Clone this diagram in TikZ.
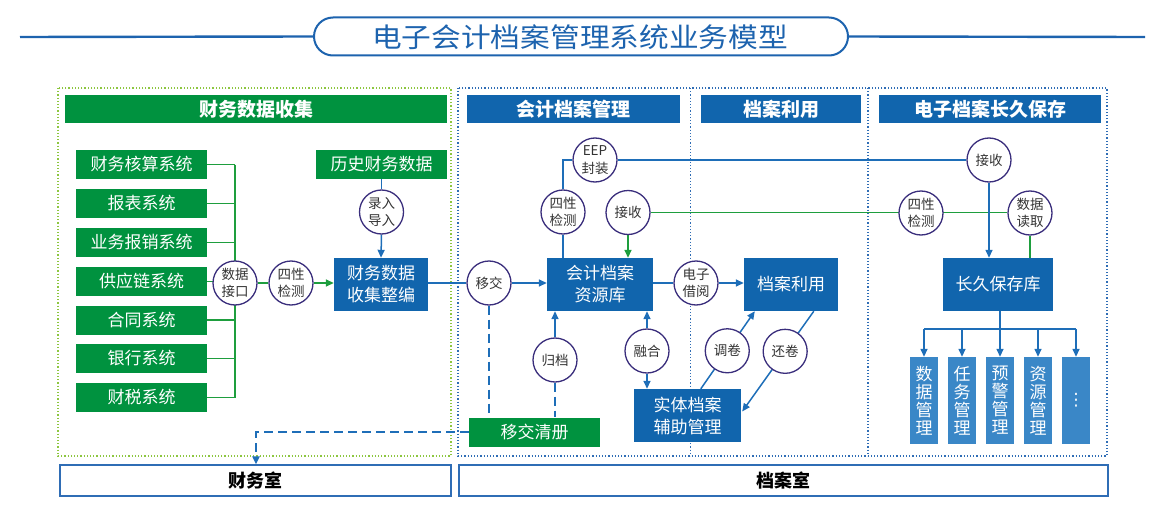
\documentclass[tikz,border=0pt]{standalone}
\usepackage{fontspec}
\newfontfamily\cjk{Noto Sans CJK SC}
\newfontfamily\dejavu{DejaVu Sans}
\usetikzlibrary{arrows.meta,calc,backgrounds}
\definecolor{cgreen}{HTML}{00923F}
\definecolor{cblue}{HTML}{1165AD}
\definecolor{clight}{HTML}{3A87C7}
\definecolor{cline}{HTML}{1E6EB8}
\definecolor{cgline}{HTML}{1E9E3E}
\definecolor{ccirc}{HTML}{3A2E7C}
\definecolor{ctext}{HTML}{333333}
\definecolor{cdotg}{HTML}{8DC63F}
\definecolor{cdotb}{HTML}{2F6DB5}
\definecolor{ctitle}{HTML}{1D63AE}
\begin{document}
\begin{tikzpicture}[x=1pt,y=-1pt,
  gbox/.style={fill=cgreen, text=white, inner sep=0pt, font=\cjk\fontsize{17}{20}\selectfont, align=center},
  bbox/.style={fill=cblue, text=white, inner sep=0pt, font=\cjk\fontsize{17}{22}\selectfont, align=center},
  sbox/.style={fill=clight, text=white, inner sep=0pt, minimum width=28.5pt, minimum height=87pt, font=\cjk\fontsize{17}{18}\selectfont, align=center},
  hdrg/.style={fill=cgreen, text=white, inner sep=0pt, minimum height=28pt, font=\cjk\bfseries\fontsize{19}{22}\selectfont},
  hdrb/.style={fill=cblue, text=white, inner sep=0pt, minimum height=28pt, font=\cjk\bfseries\fontsize{19}{22}\selectfont},
  circ/.style={circle, draw=ccirc, line width=1.3pt, fill=white, minimum size=44pt, inner sep=0pt, text=ctext, font=\cjk\fontsize{13.5}{17.5}\selectfont, align=center},
  roombox/.style={draw=cdotb, line width=1.1pt, fill=white, inner sep=0pt, minimum height=31pt, font=\cjk\bfseries\fontsize{18}{20}\selectfont, text=black},
  lb/.style={draw=cline, line width=1.5pt},
  lg/.style={draw=cgline, line width=1.5pt},
  arr/.style={-{Triangle[length=8pt,width=7pt]}},
  dashb/.style={draw=cline, line width=2pt, dash pattern=on 9pt off 5pt},
]
\useasboundingbox (0,0) rectangle (1166,508);

% title
\node[draw=ctitle, line width=2pt, rounded corners=19pt, minimum width=534pt, minimum height=38pt, inner sep=0pt] (tbox) at (581,36.5) {};
\node[text=ctitle, font=\cjk\fontsize{27}{30}\selectfont, inner sep=0pt] (ttext) at (580,37) {\scalebox{1.1}[1]{电子会计档案管理系统业务模型}};
\coordinate (tl) at (20,37);
\coordinate (tr) at (1145,37);

% headers
\node[hdrg, minimum width=382pt] (h1) at (256,109) {财务数据收集};
\node[hdrb, minimum width=213pt] (h2) at (573.5,109) {会计档案管理};
\node[hdrb, minimum width=160pt] (h3) at (781,109) {档案利用};
\node[hdrb, minimum width=222pt] (h4) at (990,109) {电子档案长久保存};

% left green systems
\foreach \i/\t/\y in {1/财务核算系统/164.5, 2/报表系统/203.5, 3/业务报销系统/242.5, 4/供应链系统/281.5, 5/合同系统/320, 6/银行系统/358.5, 7/财税系统/397.5}{
  \node[gbox, minimum width=131pt, minimum height=29pt] (g\i) at (141.5,\y) {\t};
}
\node[gbox, minimum width=131pt, minimum height=29pt] (hist) at (381.5,164.5) {历史财务数据};
\node[circ] (dj) at (235,283) {数据\\接口};
\node[circ] (sx1) at (291,283) {四性\\检测};
\node[circ] (lr) at (381.5,212) {录入\\导入};
\node[bbox, minimum width=94pt, minimum height=53pt] (zb) at (381,284.5) {财务数据\\收集整编};

% accounting archive management
\node[circ] (yj) at (489,283) {移交};
\node[bbox, minimum width=106pt, minimum height=53pt] (zy) at (600,284.5) {会计档案\\资源库};
\node[gbox, minimum width=131pt, minimum height=29pt] (qc) at (534.5,432) {移交清册};
\node[circ] (gd) at (555,360) {归档};
\node[circ] (sx2) at (563,212) {四性\\检测};
\node[circ] (eep) at (595,160) {EEP\\封装};
\node[circ] (js1) at (628,212.5) {接收};
\node[circ] (rh) at (647,351) {融合};
\node[bbox, minimum width=107pt, minimum height=53pt] (st) at (687.5,415.5) {实体档案\\辅助管理};

% archive use
\node[circ] (jy) at (696,283) {电子\\借阅};
\node[bbox, minimum width=94pt, minimum height=53pt] (ly) at (791,284.5) {档案利用};
\coordinate (djA) at ($(st.north west)+(67,0)$);
\coordinate (djB) at ($(ly.south west)+(11,0)$);
\coordinate (hjA) at ($(ly.south west)+(70,0)$);
\coordinate (hjB) at ($(st.east)+(1,-4)$);
\node[circ] at ($(djA)!0.49!(djB)$) (dj2) {调卷};
\node[circ] at ($(hjA)!0.4!(hjB)$) (hj) {还卷};

% long-term preservation
\node[circ] (js2) at (989,160) {接收};
\node[circ] (sx3) at (921,213) {四性\\检测};
\node[circ] (dq) at (1030,213) {数据\\读取};
\node[bbox, minimum width=110pt, minimum height=53pt] (lk) at (998,284.5) {长久保存库};
\node[sbox] (s1) at (924,400.5) {数\\据\\管\\理};
\node[sbox] (s2) at (962,400.5) {任\\务\\管\\理};
\node[sbox] (s3) at (1000,400.5) {预\\警\\管\\理};
\node[sbox] (s4) at (1038,400.5) {资\\源\\管\\理};
\node[sbox, font=\dejavu\fontsize{17}{18}\selectfont] (s5) at (1076,400.5) {⋮};
\coordinate (tj) at (1000,329);

% rooms
\node[roombox, minimum width=391pt] (cws) at (255.5,480.5) {财务室};
\node[roombox, minimum width=649pt] (das) at (783.5,480.5) {档案室};
\coordinate (dk) at (256,433);

\begin{scope}[on background layer]
  % title lines
  \draw[draw=ctitle, line width=2.4pt] (tl) -- (tbox.west);
  \draw[draw=ctitle, line width=2.4pt] (tbox.east) -- (tr);
  % region borders
  \draw[draw=cdotg, line width=1.2pt, dotted] (58,88) rectangle (451,456);
  \draw[draw=cdotb, line width=1.2pt, dotted] (458,88) rectangle (1107,456);
  \draw[draw=cdotb, line width=1.2pt, dotted] (690.5,88) -- (690.5,456);
  \draw[draw=cdotb, line width=1.2pt, dotted] (868,88) -- (868,456);

  % left bus
  \foreach \i in {1,...,7}{ \draw[lg] (g\i.east) -- (g\i.east -| dj); }
  \draw[lg] (g1.east -| dj) -- (g7.east -| dj);
  \draw[lg] (dj.east) -- (sx1.west);
  \draw[lg,arr] (sx1.east) -- (zb.west |- sx1.east);
  \draw[lb] (hist.south) -- (lr.north);
  \draw[lb,arr] (lr.south) -- (zb.north);
  \draw[lb] (zb.east |- yj.west) -- (yj.west);
  \draw[lb,arr] (yj.east) -- (zy.west |- yj.east);
  \draw[dashb] (yj.south) -- (yj.south |- qc.north);
  \draw[dashb] (gd.south) -- (gd.south |- qc.north);
  \draw[lb,arr] (gd.north) -- (gd.north |- zy.south);
  \draw[dashb,arr] (qc.west) -| (dk) -- (dk |- cws.north) ;

  % up to EEP and across
  \draw[lb] (sx2.south |- zy.north) -- (sx2.south);
  \draw[lb] (sx2.north) |- (eep.west);
  \draw[lb] (eep.east) -- (js2.west);
  \draw[lg] (js1.east) -- (dq.west |- js1.east);
  \draw[lg,arr] (js1.south) -- (js1.south |- zy.north);

  % fusion
  \draw[lb,arr] (rh.north) -- (rh.north |- zy.south);
  \draw[lb,arr] (rh.south) -- (rh.south |- st.north);

  % electronic lending
  \draw[lb] (zy.east |- jy.west) -- (jy.west);
  \draw[lb,arr] (jy.east) -- (ly.west |- jy.east);
  \draw[lb,arr] (djA) -- (djB);
  \draw[lb,arr] (hjA) -- (hjB);

  % preservation
  \draw[lb,arr] (js2.south) -- (js2.south |- lk.north);
  \draw[lg] (dq.south) -- (dq.south |- lk.north);
  \draw[lb] (lk.south -| tj) -- (tj);
  \draw[lb] (s1.north |- tj) -- (s5.north |- tj);
  \foreach \i in {1,...,5}{ \draw[lb,arr] (s\i.north |- tj) -- (s\i.north); }
\end{scope}
\end{tikzpicture}
\end{document}
